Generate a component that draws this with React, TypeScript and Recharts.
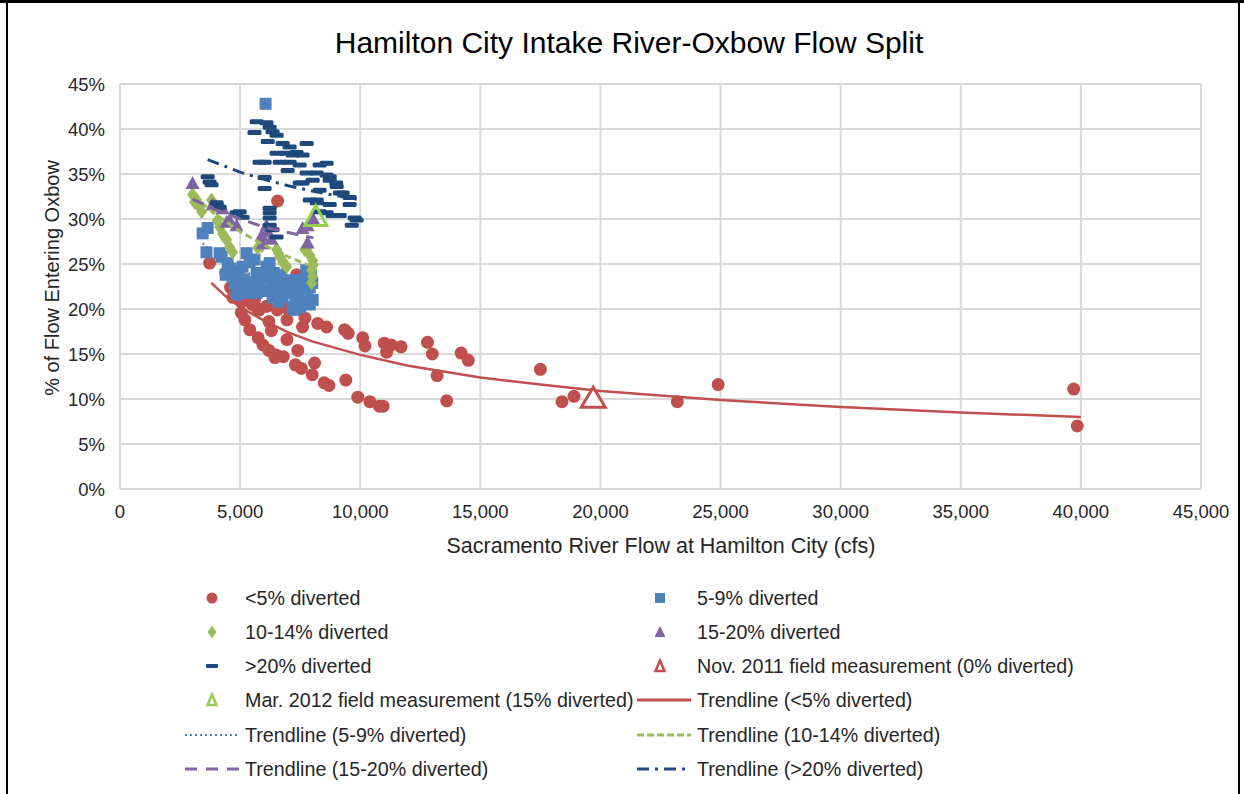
import React from "react";
import { CartesianGrid, Scatter, ScatterChart, XAxis, YAxis } from "recharts";

// flow (cfs), % of flow entering oxbow
const lt5Diverted: [number, number][] = [
  [3730, 25.1], [4400, 24.0], [4700, 21.3], [5050, 20.8], [5050, 19.6], [5200, 18.8],
  [5300, 22.7], [5400, 17.7], [5600, 21.0], [5700, 20.1], [5800, 19.9], [5750, 16.8],
  [5950, 16.0], [6100, 20.3], [6200, 15.4], [6200, 18.6], [6450, 14.6], [6500, 14.9],
  [6550, 19.9], [6560, 32.0], [6800, 14.7], [6950, 16.6], [6950, 20.1], [6950, 18.8],
  [7300, 13.8], [7350, 23.8], [7400, 15.4], [7550, 13.4], [7600, 18.0], [7700, 19.0],
  [8000, 12.7], [8100, 14.0], [8230, 18.4], [8500, 11.8], [8600, 18.0], [8700, 11.5],
  [9350, 17.7], [9400, 12.1], [9500, 17.3], [9900, 10.2], [10100, 16.8], [10200, 15.9],
  [10400, 9.7], [10800, 9.2], [10950, 9.2], [11000, 16.2], [11100, 15.2], [11300, 16.0],
  [11700, 15.8], [12800, 16.3], [13000, 15.0], [13200, 12.6], [13600, 9.8], [14200, 15.1],
  [14500, 14.3], [17500, 13.3], [18400, 9.7], [18900, 10.3], [23200, 9.7], [24900, 11.6],
  [39700, 11.1], [39850, 7.0], [4600, 22.4], [5150, 21.4], [5500, 20.5], [6300, 17.6]
];

const d5to9Diverted: [number, number][] = [
  [3440, 28.4], [3600, 26.3], [3650, 29.0], [4150, 26.2], [4230, 25.8], [4480, 25.1],
  [4690, 23.6], [4770, 22.9], [4850, 21.6], [4940, 24.1], [5270, 26.2], [5400, 25.2],
  [5270, 22.4], [5270, 21.8], [5520, 22.1], [5690, 21.8], [5690, 24.0], [6100, 24.7],
  [6230, 25.1], [6230, 23.6], [6350, 21.3], [6520, 23.2], [6650, 22.4], [6770, 21.3],
  [6940, 22.9], [7060, 23.2], [7190, 20.2], [7270, 19.9], [7350, 22.3], [7480, 23.2],
  [7600, 23.2], [7600, 20.7], [7690, 21.3], [7900, 22.4], [8020, 21.0], [6060, 42.8],
  [4600, 24.5], [4900, 23.0], [5000, 22.0], [5100, 24.7], [5500, 23.0], [5800, 22.8],
  [5900, 23.5], [6000, 22.0], [6300, 22.5], [6400, 24.0], [6700, 23.8], [6800, 22.0],
  [7000, 21.8], [7100, 22.5], [7300, 21.0], [7400, 21.5], [7700, 22.8], [7800, 21.5],
  [7900, 20.5], [8000, 22.9], [5600, 25.5], [6600, 20.8], [7500, 20.2], [7950, 23.8],
  [7750, 24.3], [5150, 23.3], [4400, 23.8]
];

const d10to14Diverted: [number, number][] = [
  [3020, 32.7], [3190, 32.1], [3310, 31.3], [3400, 30.8], [3810, 32.1], [3850, 31.3],
  [4150, 29.1], [4270, 28.4], [4440, 27.7], [4560, 26.9], [4690, 26.3], [5730, 26.8],
  [5900, 27.0], [6520, 26.6], [6650, 25.8], [6770, 25.2], [6940, 24.7], [7690, 26.6],
  [7810, 26.9], [7900, 26.0], [8020, 25.4], [7980, 24.3], [8020, 23.6], [7980, 22.9],
  [3100, 31.9], [4050, 29.8], [4350, 28.0], [6600, 26.2], [6850, 25.0], [8050, 24.9]
];

const d15to20Diverted: [number, number][] = [
  [3020, 34.0], [3850, 31.6], [4270, 31.2], [4440, 29.7], [4560, 29.9], [4850, 29.3],
  [5900, 28.2], [5940, 27.3], [6100, 29.3], [6150, 28.6], [6300, 27.8], [7600, 29.0],
  [7810, 29.3], [7810, 27.4], [8050, 30.0]
];

const gt20Diverted: [number, number][] = [
  [3650, 34.7], [3730, 34.1], [3810, 33.8], [4020, 31.8], [4150, 31.3], [4850, 30.7],
  [4980, 30.8], [5100, 30.2], [5600, 39.6], [5690, 40.8], [5810, 36.3], [6020, 36.3],
  [6020, 34.6], [6020, 33.4], [6100, 40.7], [6150, 38.6], [6230, 40.2], [6230, 31.2],
  [6230, 30.7], [6230, 30.1], [6230, 29.3], [6350, 39.7], [6350, 28.8], [6520, 39.3],
  [6520, 37.3], [6520, 28.0], [6650, 36.3], [6770, 38.4], [6940, 37.3], [6980, 35.4],
  [7060, 38.0], [7060, 36.3], [7190, 37.1], [7350, 37.4], [7480, 36.0], [7480, 34.0],
  [7600, 37.1], [7600, 34.0], [7770, 38.4], [7770, 35.1], [7900, 32.1], [8020, 34.3],
  [8190, 35.1], [8190, 32.1], [8190, 31.8], [8310, 36.0], [8310, 33.2], [8310, 30.8],
  [8600, 36.2], [8600, 34.9], [8600, 30.7], [8730, 34.7], [8730, 34.3], [8730, 31.6],
  [8850, 30.4], [9000, 34.0], [9020, 33.6], [9150, 32.9], [9150, 30.4], [9270, 32.9],
  [9560, 32.4], [9560, 31.6], [9650, 29.3], [9770, 30.1], [9850, 29.9]
];

const nov2011Field: [number, number][] = [[19700, 10.2]];
const mar2012Field: [number, number][] = [[8150, 30.4]];

// trendlines
const trendLt5: [number, number][] = [
  [3800, 22.9], [4400, 21.4], [5000, 20.2], [6000, 18.7], [7000, 17.4], [8000, 16.4],
  [10000, 14.9], [12000, 13.7], [15000, 12.4], [17500, 11.6], [20000, 10.9], [25000, 9.9],
  [30000, 9.1], [35000, 8.5], [40000, 8.0]
];
const trend5to9: [number, number][] = [
  [3440, 27.3], [4000, 26.0], [5000, 24.4], [6000, 23.2], [7000, 22.2], [8020, 21.4]
];
const trend10to14: [number, number][] = [
  [3020, 32.6], [4000, 30.5], [5000, 28.6], [6000, 27.1], [7000, 25.8], [8020, 24.7]
];
const trend15to20: [number, number][] = [
  [3020, 32.2], [4000, 31.0], [5000, 30.0], [6000, 29.1], [7000, 28.5], [8050, 27.9]
];
const trendGt20: [number, number][] = [
  [3650, 36.6], [5000, 35.2], [6000, 34.4], [7000, 33.7], [8000, 33.1], [9000, 32.6],
  [9850, 32.2]
];

const xTicks = [0, 5000, 10000, 15000, 20000, 25000, 30000, 35000, 40000, 45000];
const yTicks = [0, 5, 10, 15, 20, 25, 30, 35, 40, 45];

const RED = "#C0504D";
const BLUE = "#4F81BD";
const GREEN = "#9BBB59";
const PURPLE = "#8064A2";
const NAVY = "#1F497D";
const LIME = "#92D050";
const FONT = "'Liberation Sans', Arial, sans-serif";
const TEXT = "#262626";

const toRows = (pts: [number, number][]) => pts.map(([x, y]) => ({ x, y }));

const circleShape = (p: any) => <circle cx={p.cx} cy={p.cy} r={6.5} fill={RED} />;
const squareShape = (p: any) => <rect x={p.cx - 6} y={p.cy - 6} width={12} height={12} fill={BLUE} />;
const diamondShape = (p: any) => (
  <polygon points={`${p.cx},${p.cy - 7.5} ${p.cx + 5.5},${p.cy} ${p.cx},${p.cy + 7.5} ${p.cx - 5.5},${p.cy}`} fill={GREEN} />
);
const triangleShape = (p: any) => (
  <polygon points={`${p.cx},${p.cy - 7} ${p.cx + 7},${p.cy + 6} ${p.cx - 7},${p.cy + 6}`} fill={PURPLE} />
);
const dashShape = (p: any) => <rect x={p.cx - 7} y={p.cy - 2.5} width={14} height={5} rx={1.5} fill={NAVY} />;
const openTriangle = (color: string, w: number, h: number, fill: string) => (p: any) => (
  <polygon
    points={`${p.cx},${p.cy - h / 2} ${p.cx + w / 2},${p.cy + h / 2} ${p.cx - w / 2},${p.cy + h / 2}`}
    fill={fill}
    stroke={color}
    strokeWidth={3}
    strokeLinejoin="miter"
  />
);
const noShape = () => <g />;

type LegendItem = { label: string; col: number; row: number; icon: string };

const legendItems: LegendItem[] = [
  { label: "<5% diverted", col: 0, row: 0, icon: "circle" },
  { label: "5-9% diverted", col: 1, row: 0, icon: "square" },
  { label: "10-14% diverted", col: 0, row: 1, icon: "diamond" },
  { label: "15-20% diverted", col: 1, row: 1, icon: "triangle" },
  { label: ">20% diverted", col: 0, row: 2, icon: "dash" },
  { label: "Nov. 2011 field measurement (0% diverted)", col: 1, row: 2, icon: "nov" },
  { label: "Mar. 2012 field measurement (15% diverted)", col: 0, row: 3, icon: "mar" },
  { label: "Trendline (<5% diverted)", col: 1, row: 3, icon: "tRed" },
  { label: "Trendline (5-9% diverted)", col: 0, row: 4, icon: "tBlue" },
  { label: "Trendline (10-14% diverted)", col: 1, row: 4, icon: "tGreen" },
  { label: "Trendline (15-20% diverted)", col: 0, row: 5, icon: "tPurple" },
  { label: "Trendline (>20% diverted)", col: 1, row: 5, icon: "tNavy" }
];

const rowY = [598, 632, 666, 700, 735, 769];
const markerX = [212, 660];
const textX = [245, 697];
const lineSpan = [[185, 240], [637, 691]];

function LegendIcon({ icon, col, y }: { icon: string; col: number; y: number }) {
  const cx = markerX[col];
  const [x1, x2] = lineSpan[col];
  switch (icon) {
    case "circle":
      return <circle cx={cx} cy={y} r={5.5} fill={RED} />;
    case "square":
      return <rect x={cx - 5} y={y - 5} width={10} height={10} fill={BLUE} />;
    case "diamond":
      return <polygon points={`${cx},${y - 6.5} ${cx + 4.5},${y} ${cx},${y + 6.5} ${cx - 4.5},${y}`} fill={GREEN} />;
    case "triangle":
      return <polygon points={`${cx},${y - 6} ${cx + 5.5},${y + 5} ${cx - 5.5},${y + 5}`} fill={PURPLE} />;
    case "dash":
      return <rect x={cx - 6} y={y - 2} width={12} height={4} rx={1} fill={NAVY} />;
    case "nov":
      return <polygon points={`${cx},${y - 5.5} ${cx + 4.5},${y + 5} ${cx - 4.5},${y + 5}`} fill="white" stroke={RED} strokeWidth={2.5} />;
    case "mar":
      return <polygon points={`${cx},${y - 5.5} ${cx + 4.5},${y + 5} ${cx - 4.5},${y + 5}`} fill="white" stroke={LIME} strokeWidth={2.5} />;
    case "tRed":
      return <line x1={x1} x2={x2} y1={y} y2={y} stroke={RED} strokeWidth={3} />;
    case "tBlue":
      return <line x1={x1} x2={x2} y1={y} y2={y} stroke={BLUE} strokeWidth={2} strokeDasharray="2 3" />;
    case "tGreen":
      return <line x1={x1} x2={x2} y1={y} y2={y} stroke={GREEN} strokeWidth={3} strokeDasharray="7 3" />;
    case "tPurple":
      return <line x1={x1} x2={x2} y1={y} y2={y} stroke={PURPLE} strokeWidth={3} strokeDasharray="12 9" />;
    case "tNavy":
      return <line x1={x1} x2={x2} y1={y} y2={y} stroke={NAVY} strokeWidth={3} strokeDasharray="12 6 3 6" />;
    default:
      return null;
  }
}

function Overlay() {
  return (
    <svg width={1244} height={794} style={{ position: "absolute", left: 0, top: 0, pointerEvents: "none" }}>
      <rect x={0} y={0} width={1244} height={3} fill="#000" />
      <rect x={6} y={0} width={2} height={794} fill="#000" />
      <rect x={1238} y={0} width={2} height={794} fill="#000" />
      <text x={629} y={53} textAnchor="middle" fontFamily={FONT} fontSize={30} fill="#000">
        Hamilton City Intake River-Oxbow Flow Split
      </text>
      <text x={661} y={553} textAnchor="middle" fontFamily={FONT} fontSize={21.5} fill={TEXT}>
        Sacramento River Flow at Hamilton City (cfs)
      </text>
      <text
        x={59}
        y={278}
        textAnchor="middle"
        transform="rotate(-90 59 278)"
        fontFamily={FONT}
        fontSize={20}
        fill={TEXT}
      >
        % of Flow Entering Oxbow
      </text>
      {legendItems.map((item) => (
        <g key={item.label}>
          <LegendIcon icon={item.icon} col={item.col} y={rowY[item.row]} />
          <text
            x={textX[item.col]}
            y={rowY[item.row] + 7}
            fontFamily={FONT}
            fontSize={19.7}
            fill={TEXT}
          >
            {item.label}
          </text>
        </g>
      ))}
    </svg>
  );
}

export default function App() {
  return (
    <div style={{ position: "absolute", left: 0, top: 0, width: 1244, height: 794, background: "#fff" }}>
      <ScatterChart width={1244} height={794} margin={{ top: 84, right: 43, bottom: 275, left: 0 }}>
        <CartesianGrid stroke="#d9d9d9" strokeWidth={2} />
        <XAxis
          type="number"
          dataKey="x"
          domain={[0, 45000]}
          ticks={xTicks}
          height={30}
          tickSize={0}
          tickMargin={16}
          tickLine={false}
          axisLine={{ stroke: "#d9d9d9", strokeWidth: 2 }}
          tickFormatter={(v: number) => v.toLocaleString("en-US")}
          tick={{ fill: TEXT, fontSize: 18.5, fontFamily: FONT }}
          interval={0}
        />
        <YAxis
          type="number"
          dataKey="y"
          domain={[0, 45]}
          ticks={yTicks}
          width={120}
          tickSize={0}
          tickMargin={15}
          tickLine={false}
          axisLine={{ stroke: "#d9d9d9", strokeWidth: 2 }}
          tickFormatter={(v: number) => `${v}%`}
          tick={{ fill: TEXT, fontSize: 18.5, fontFamily: FONT }}
          interval={0}
        />
        <Scatter data={toRows(lt5Diverted)} shape={circleShape} isAnimationActive={false} />
        <Scatter data={toRows(d5to9Diverted)} shape={squareShape} isAnimationActive={false} />
        <Scatter data={toRows(d10to14Diverted)} shape={diamondShape} isAnimationActive={false} />
        <Scatter data={toRows(d15to20Diverted)} shape={triangleShape} isAnimationActive={false} />
        <Scatter data={toRows(gt20Diverted)} shape={dashShape} isAnimationActive={false} />
        <Scatter
          data={toRows(trendLt5)}
          shape={noShape}
          line={{ stroke: RED, strokeWidth: 2.5 }}
          lineType="joint"
          isAnimationActive={false}
        />
        <Scatter
          data={toRows(trend5to9)}
          shape={noShape}
          line={{ stroke: BLUE, strokeWidth: 2, strokeDasharray: "2 3" }}
          isAnimationActive={false}
        />
        <Scatter
          data={toRows(trend10to14)}
          shape={noShape}
          line={{ stroke: GREEN, strokeWidth: 3, strokeDasharray: "7 4" }}
          isAnimationActive={false}
        />
        <Scatter
          data={toRows(trend15to20)}
          shape={noShape}
          line={{ stroke: PURPLE, strokeWidth: 3, strokeDasharray: "12 8" }}
          isAnimationActive={false}
        />
        <Scatter
          data={toRows(trendGt20)}
          shape={noShape}
          line={{ stroke: NAVY, strokeWidth: 3, strokeDasharray: "12 6 3 6" }}
          isAnimationActive={false}
        />
        <Scatter data={toRows(nov2011Field)} shape={openTriangle(RED, 24, 20, "white")} isAnimationActive={false} />
        <Scatter data={toRows(mar2012Field)} shape={openTriangle(LIME, 22, 20, "none")} isAnimationActive={false} />
      </ScatterChart>
      <Overlay />
    </div>
  );
}
